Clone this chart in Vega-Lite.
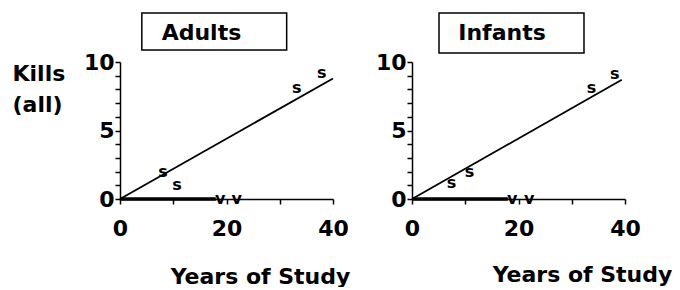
{
  "$schema": "https://vega.github.io/schema/vega-lite/v6.json",
  "padding": {"left": 12, "top": 12, "right": 0, "bottom": 0},
  "background": "white",
  "spacing": 25,
  "datasets": {
    "observations": [
      {"panel": "Adults", "series": "s", "years": 8.1, "kills": 2.0},
      {"panel": "Adults", "series": "s", "years": 10.7, "kills": 1.0},
      {"panel": "Adults", "series": "s", "years": 33.2, "kills": 8.1},
      {"panel": "Adults", "series": "s", "years": 37.9, "kills": 9.2},
      {"panel": "Adults", "series": "v", "years": 18.8, "kills": 0},
      {"panel": "Adults", "series": "v", "years": 21.9, "kills": 0},
      {"panel": "Adults", "series": "s fit", "years": 0, "kills": 0},
      {"panel": "Adults", "series": "s fit", "years": 40, "kills": 8.8},
      {"panel": "Adults", "series": "v fit", "years": 0, "kills": 0},
      {"panel": "Adults", "series": "v fit", "years": 18, "kills": 0},
      {"panel": "Infants", "series": "s", "years": 7.4, "kills": 1.15},
      {"panel": "Infants", "series": "s", "years": 10.8, "kills": 2.0},
      {"panel": "Infants", "series": "s", "years": 33.7, "kills": 8.1},
      {"panel": "Infants", "series": "s", "years": 38.1, "kills": 9.1},
      {"panel": "Infants", "series": "v", "years": 18.8, "kills": 0},
      {"panel": "Infants", "series": "v", "years": 22.0, "kills": 0},
      {"panel": "Infants", "series": "s fit", "years": 0, "kills": 0},
      {"panel": "Infants", "series": "s fit", "years": 39.4, "kills": 8.7},
      {"panel": "Infants", "series": "v fit", "years": 0, "kills": 0},
      {"panel": "Infants", "series": "v fit", "years": 18, "kills": 0}
    ],
    "panels": [{"panel": "Adults"}, {"panel": "Infants"}]
  },
  "config": {
    "view": {"stroke": null},
    "font": "DejaVu Sans",
    "axis": {
      "grid": false,
      "labelOverlap": false,
      "domainColor": "black",
      "domainWidth": 1.5,
      "tickColor": "black",
      "tickWidth": 1.5,
      "tickSize": 5,
      "labelColor": "black",
      "labelFont": "DejaVu Sans",
      "labelFontWeight": "bold",
      "labelFontSize": 22,
      "titleColor": "black",
      "titleFont": "DejaVu Sans",
      "titleFontWeight": "bold",
      "titleFontSize": 22
    }
  },
  "hconcat": [
    {
      "width": 213,
      "height": 137,
      "layer": [
        {
          "data": {"name": "panels"},
          "transform": [{"filter": "datum.panel == 'Adults'"}],
          "mark": {"type": "rect", "fill": "white", "stroke": "black", "strokeWidth": 1.5},
          "encoding": {
            "x": {"datum": 4.1, "type": "quantitative", "scale": {"domain": [0, 40], "nice": false},
              "axis": {"values": [0, 10, 20, 30, 40], "labelExpr": "datum.value % 20 == 0 ? datum.label : ''", "labelFlush": false, "labelPadding": 14, "title": "Years of Study", "titleX": 140, "titleY": 84, "titleAlign": "center", "titleBaseline": "alphabetic"}},
            "x2": {"datum": 31.3},
            "y": {"datum": 13.58, "type": "quantitative", "scale": {"domain": [0, 10], "nice": false},
              "axis": {"values": [0, 1, 2, 3, 4, 5, 6, 7, 8, 9, 10], "labelExpr": "datum.value % 5 == 0 ? datum.label : ''", "labelPadding": 1, "title": ["Kills", "(all)"], "titleAngle": 0, "titleAlign": "left", "titleBaseline": "alphabetic", "titleX": -108, "titleY": 18, "titleLineHeight": 31}},
            "y2": {"datum": 10.88}
          }
        },
        {
          "data": {"name": "panels"},
          "transform": [{"filter": "datum.panel == 'Adults'"}],
          "mark": {"type": "text", "fontSize": 22, "fontWeight": "bold", "font": "DejaVu Sans", "baseline": "alphabetic", "align": "center", "color": "black"},
          "encoding": {
            "x": {"datum": 15.3, "type": "quantitative", "scale": {"domain": [0, 40], "nice": false},
              "axis": {"values": [0, 10, 20, 30, 40], "labelExpr": "datum.value % 20 == 0 ? datum.label : ''", "labelFlush": false, "labelPadding": 14, "title": "Years of Study", "titleX": 140, "titleY": 84, "titleAlign": "center", "titleBaseline": "alphabetic"}},
            "y": {"datum": 11.6, "type": "quantitative", "scale": {"domain": [0, 10], "nice": false},
              "axis": {"values": [0, 1, 2, 3, 4, 5, 6, 7, 8, 9, 10], "labelExpr": "datum.value % 5 == 0 ? datum.label : ''", "labelPadding": 1, "title": ["Kills", "(all)"], "titleAngle": 0, "titleAlign": "left", "titleBaseline": "alphabetic", "titleX": -108, "titleY": 18, "titleLineHeight": 31}},
            "text": {"field": "panel"}
          }
        },
        {
          "data": {"name": "observations"},
          "transform": [{"filter": "datum.panel == 'Adults' && datum.series == 's fit'"}],
          "mark": {"type": "line", "color": "black", "strokeWidth": 1.8},
          "encoding": {
            "x": {"field": "years", "type": "quantitative", "scale": {"domain": [0, 40], "nice": false},
              "axis": {"values": [0, 10, 20, 30, 40], "labelExpr": "datum.value % 20 == 0 ? datum.label : ''", "labelFlush": false, "labelPadding": 14, "title": "Years of Study", "titleX": 140, "titleY": 84, "titleAlign": "center", "titleBaseline": "alphabetic"}},
            "y": {"field": "kills", "type": "quantitative", "scale": {"domain": [0, 10], "nice": false},
              "axis": {"values": [0, 1, 2, 3, 4, 5, 6, 7, 8, 9, 10], "labelExpr": "datum.value % 5 == 0 ? datum.label : ''", "labelPadding": 1, "title": ["Kills", "(all)"], "titleAngle": 0, "titleAlign": "left", "titleBaseline": "alphabetic", "titleX": -108, "titleY": 18, "titleLineHeight": 31}}
          }
        },
        {
          "data": {"name": "observations"},
          "transform": [{"filter": "datum.panel == 'Adults' && datum.series == 'v fit'"}],
          "mark": {"type": "line", "color": "black", "strokeWidth": 3.5},
          "encoding": {
            "x": {"field": "years", "type": "quantitative", "scale": {"domain": [0, 40], "nice": false},
              "axis": {"values": [0, 10, 20, 30, 40], "labelExpr": "datum.value % 20 == 0 ? datum.label : ''", "labelFlush": false, "labelPadding": 14, "title": "Years of Study", "titleX": 140, "titleY": 84, "titleAlign": "center", "titleBaseline": "alphabetic"}},
            "y": {"field": "kills", "type": "quantitative", "scale": {"domain": [0, 10], "nice": false},
              "axis": {"values": [0, 1, 2, 3, 4, 5, 6, 7, 8, 9, 10], "labelExpr": "datum.value % 5 == 0 ? datum.label : ''", "labelPadding": 1, "title": ["Kills", "(all)"], "titleAngle": 0, "titleAlign": "left", "titleBaseline": "alphabetic", "titleX": -108, "titleY": 18, "titleLineHeight": 31}}
          }
        },
        {
          "data": {"name": "observations"},
          "transform": [{"filter": "datum.panel == 'Adults' && (datum.series == 's' || datum.series == 'v')"}],
          "mark": {"type": "text", "fontSize": 16, "fontWeight": "bold", "font": "DejaVu Sans", "baseline": "middle", "align": "center", "color": "black"},
          "encoding": {
            "x": {"field": "years", "type": "quantitative", "scale": {"domain": [0, 40], "nice": false},
              "axis": {"values": [0, 10, 20, 30, 40], "labelExpr": "datum.value % 20 == 0 ? datum.label : ''", "labelFlush": false, "labelPadding": 14, "title": "Years of Study", "titleX": 140, "titleY": 84, "titleAlign": "center", "titleBaseline": "alphabetic"}},
            "y": {"field": "kills", "type": "quantitative", "scale": {"domain": [0, 10], "nice": false},
              "axis": {"values": [0, 1, 2, 3, 4, 5, 6, 7, 8, 9, 10], "labelExpr": "datum.value % 5 == 0 ? datum.label : ''", "labelPadding": 1, "title": ["Kills", "(all)"], "titleAngle": 0, "titleAlign": "left", "titleBaseline": "alphabetic", "titleX": -108, "titleY": 18, "titleLineHeight": 31}},
            "text": {"field": "series"}
          }
        }
      ]
    },
    {
      "width": 213,
      "height": 137,
      "layer": [
        {
          "data": {"name": "panels"},
          "transform": [{"filter": "datum.panel == 'Infants'"}],
          "mark": {"type": "rect", "fill": "white", "stroke": "black", "strokeWidth": 1.5},
          "encoding": {
            "x": {"datum": 5.07, "type": "quantitative", "scale": {"domain": [0, 40], "nice": false},
              "axis": {"values": [0, 10, 20, 30, 40], "labelExpr": "datum.value % 20 == 0 ? datum.label : ''", "labelFlush": false, "labelPadding": 14, "title": "Years of Study", "titleX": 170, "titleY": 82, "titleAlign": "center", "titleBaseline": "alphabetic"}},
            "x2": {"datum": 32.3},
            "y": {"datum": 13.58, "type": "quantitative", "scale": {"domain": [0, 10], "nice": false},
              "axis": {"values": [0, 1, 2, 3, 4, 5, 6, 7, 8, 9, 10], "labelExpr": "datum.value % 5 == 0 ? datum.label : ''", "labelPadding": 1, "title": null}},
            "y2": {"datum": 10.66}
          }
        },
        {
          "data": {"name": "panels"},
          "transform": [{"filter": "datum.panel == 'Infants'"}],
          "mark": {"type": "text", "fontSize": 22, "fontWeight": "bold", "font": "DejaVu Sans", "baseline": "alphabetic", "align": "center", "color": "black"},
          "encoding": {
            "x": {"datum": 16.9, "type": "quantitative", "scale": {"domain": [0, 40], "nice": false},
              "axis": {"values": [0, 10, 20, 30, 40], "labelExpr": "datum.value % 20 == 0 ? datum.label : ''", "labelFlush": false, "labelPadding": 14, "title": "Years of Study", "titleX": 170, "titleY": 82, "titleAlign": "center", "titleBaseline": "alphabetic"}},
            "y": {"datum": 11.6, "type": "quantitative", "scale": {"domain": [0, 10], "nice": false},
              "axis": {"values": [0, 1, 2, 3, 4, 5, 6, 7, 8, 9, 10], "labelExpr": "datum.value % 5 == 0 ? datum.label : ''", "labelPadding": 1, "title": null}},
            "text": {"field": "panel"}
          }
        },
        {
          "data": {"name": "observations"},
          "transform": [{"filter": "datum.panel == 'Infants' && datum.series == 's fit'"}],
          "mark": {"type": "line", "color": "black", "strokeWidth": 1.8},
          "encoding": {
            "x": {"field": "years", "type": "quantitative", "scale": {"domain": [0, 40], "nice": false},
              "axis": {"values": [0, 10, 20, 30, 40], "labelExpr": "datum.value % 20 == 0 ? datum.label : ''", "labelFlush": false, "labelPadding": 14, "title": "Years of Study", "titleX": 170, "titleY": 82, "titleAlign": "center", "titleBaseline": "alphabetic"}},
            "y": {"field": "kills", "type": "quantitative", "scale": {"domain": [0, 10], "nice": false},
              "axis": {"values": [0, 1, 2, 3, 4, 5, 6, 7, 8, 9, 10], "labelExpr": "datum.value % 5 == 0 ? datum.label : ''", "labelPadding": 1, "title": null}}
          }
        },
        {
          "data": {"name": "observations"},
          "transform": [{"filter": "datum.panel == 'Infants' && datum.series == 'v fit'"}],
          "mark": {"type": "line", "color": "black", "strokeWidth": 3.5},
          "encoding": {
            "x": {"field": "years", "type": "quantitative", "scale": {"domain": [0, 40], "nice": false},
              "axis": {"values": [0, 10, 20, 30, 40], "labelExpr": "datum.value % 20 == 0 ? datum.label : ''", "labelFlush": false, "labelPadding": 14, "title": "Years of Study", "titleX": 170, "titleY": 82, "titleAlign": "center", "titleBaseline": "alphabetic"}},
            "y": {"field": "kills", "type": "quantitative", "scale": {"domain": [0, 10], "nice": false},
              "axis": {"values": [0, 1, 2, 3, 4, 5, 6, 7, 8, 9, 10], "labelExpr": "datum.value % 5 == 0 ? datum.label : ''", "labelPadding": 1, "title": null}}
          }
        },
        {
          "data": {"name": "observations"},
          "transform": [{"filter": "datum.panel == 'Infants' && (datum.series == 's' || datum.series == 'v')"}],
          "mark": {"type": "text", "fontSize": 16, "fontWeight": "bold", "font": "DejaVu Sans", "baseline": "middle", "align": "center", "color": "black"},
          "encoding": {
            "x": {"field": "years", "type": "quantitative", "scale": {"domain": [0, 40], "nice": false},
              "axis": {"values": [0, 10, 20, 30, 40], "labelExpr": "datum.value % 20 == 0 ? datum.label : ''", "labelFlush": false, "labelPadding": 14, "title": "Years of Study", "titleX": 170, "titleY": 82, "titleAlign": "center", "titleBaseline": "alphabetic"}},
            "y": {"field": "kills", "type": "quantitative", "scale": {"domain": [0, 10], "nice": false},
              "axis": {"values": [0, 1, 2, 3, 4, 5, 6, 7, 8, 9, 10], "labelExpr": "datum.value % 5 == 0 ? datum.label : ''", "labelPadding": 1, "title": null}},
            "text": {"field": "series"}
          }
        }
      ]
    }
  ]
}
